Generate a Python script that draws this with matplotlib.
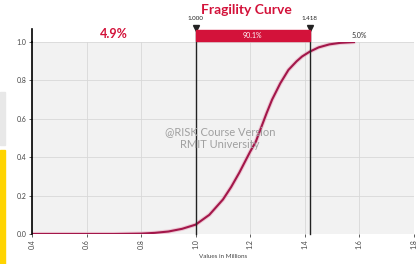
import numpy as np
import matplotlib
matplotlib.use('Agg')
from matplotlib import pyplot as plt
from matplotlib.patches import Rectangle

plt.rcParams['font.family'] = ['Lato', 'DejaVu Sans']

########## DATA ##########

# cumulative probability
values = [0.40, 0.70, 0.80, 0.85, 0.90, 0.95, 1.00, 1.05, 1.10, 1.13, 1.16, 1.20,
          1.22, 1.24, 1.26, 1.28, 1.31, 1.34, 1.37, 1.39, 1.418, 1.45, 1.49, 1.53, 1.58]
cum_prob = [0.0, 0.0, 0.002, 0.006, 0.013, 0.027, 0.049, 0.10, 0.18, 0.245, 0.32, 0.43,
            0.48, 0.555, 0.63, 0.70, 0.785, 0.855, 0.90, 0.925, 0.95, 0.972, 0.988, 0.996, 1.0]

x_ticks = [0.4, 0.6, 0.8, 1.0, 1.2, 1.4, 1.6, 1.8]
y_ticks = [0.0, 0.2, 0.4, 0.6, 0.8, 1.0]

left_cut, right_cut = 1.000, 1.418
left_pct, mid_pct, right_pct = '4.9%', '90.1%', '5.0%'

title = 'Fragility Curve'
x_label = 'Values in Millions'
watermark = '@RISK Course Version\nRMIT University'

########## PLOT ##########

red = '#d3123a'
curve_col = '#a3174a'

fig = plt.figure(figsize=(4.16, 2.64), dpi=100)
ax = fig.add_axes([0.077, 0.1136, 0.918, 0.727])
ax.set_facecolor('#f2f2f2')

ax.plot(values, cum_prob, color='#e8a0b8', lw=3.0, alpha=0.5, solid_capstyle='round')
ax.plot(values, cum_prob, color=curve_col, lw=1.5)

ax.set_xlim(0.4, 1.8)
ax.set_ylim(0, 1.0)
ax.set_xticks(x_ticks)
ax.set_xticklabels(['%.1f' % t for t in x_ticks], rotation=90, fontsize=5, color='#444444')
ax.set_yticks(y_ticks)
ax.set_yticklabels(['%.1f' % t for t in y_ticks], fontsize=5, color='#444444')
ax.tick_params(length=2, width=0.6, pad=2, colors='#444444')
ax.grid(True, color='#d8d8d8', lw=0.6)
ax.set_axisbelow(True)
for s in ['top', 'right', 'bottom']:
    ax.spines[s].set_visible(False)
ax.spines['left'].set_color('black')
ax.spines['left'].set_linewidth(1.2)
# left spine reaches a bit above the plot
ax.plot([0.4, 0.4], [1.0, 1.07], color='black', lw=1.2, clip_on=False)

ax.set_xlabel(x_label, fontsize=4.5, color='#444444', labelpad=3)

# delimiters
band_lo, band_hi = 1.005, 1.065
for c, lab in [(left_cut, '%.3f' % left_cut), (right_cut, '%.3f' % right_cut)]:
    ax.plot([c, c], [0, 1.075], color='#222222', lw=1.0, clip_on=False)
    ax.plot([c], [1.075], marker='v', color='#222222', ms=4, clip_on=False)
    ax.text(c, 1.11, lab, fontsize=4.5, ha='center', va='bottom', color='#222222')

ax.add_patch(Rectangle((left_cut, band_lo), right_cut - left_cut, band_hi - band_lo,
                       color=red, clip_on=False, zorder=3))
ax.text((left_cut + right_cut) / 2, (band_lo + band_hi) / 2, mid_pct, fontsize=5,
        color='white', ha='center', va='center', zorder=4)
ax.text(0.7, 1.04, left_pct, fontsize=9, fontweight='bold', color=red,
        ha='center', va='center')
ax.text(1.6, 1.035, right_pct, fontsize=5, color='#333333', ha='center', va='center')

ax.text(1.09, 0.5, watermark, fontsize=8, color='#a0a0a0', ha='center', va='center',
        linespacing=1.3)

fig.text(0.593, 0.962, title, fontsize=10, fontweight='bold', color=red,
         ha='center', va='center')

# bits of the surrounding window
fig.patches.append(Rectangle((0, 0), 0.013, 0.43, transform=fig.transFigure,
                             color='#ffd400', zorder=0))
fig.patches.append(Rectangle((0, 0.45), 0.013, 0.2, transform=fig.transFigure,
                             color='#e8e8e8', zorder=0))

plt.savefig('out.png', dpi=100)
